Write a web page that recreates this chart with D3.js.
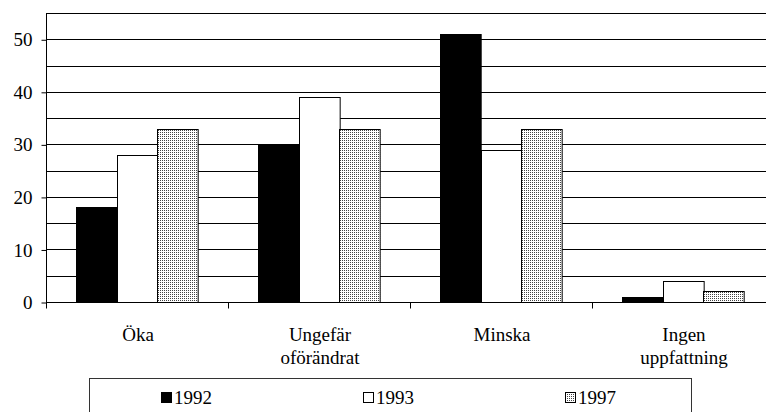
<!DOCTYPE html>
<html><head><meta charset="utf-8">
<script src="https://cdn.jsdelivr.net/npm/d3@7"></script>
<style>
html,body{margin:0;padding:0;background:#fff}
.serif{font-family:Liberation Serif, Tinos, Times New Roman, monospace;}
</style>
</head><body><svg id="c" width="766" height="412"></svg>
<script>
const categories = ["Öka", "Ungefär\noförändrat", "Minska", "Ingen\nuppfattning"];
const seriesNames = ["1992", "1993", "1997"];
const v1992 = [18, 30, 51, 1];
const v1993 = [28, 39, 29, 4];
const v1997 = [33, 33, 33, 2];
const yTicks = [0, 10, 20, 30, 40, 50];
const gridTicks = [0, 5, 10, 15, 20, 25, 30, 35, 40, 45, 50, 55];

const seriesValues = [v1992, v1993, v1997];
const fills = ["#000", "#fff", "url(#dots)"];
const fs = 19;

const svg = d3.select("#c");
const defs = svg.append("defs");
const pat = defs.append("pattern").attr("id", "dots").attr("width", 2).attr("height", 2)
  .attr("patternUnits", "userSpaceOnUse");
pat.append("rect").attr("width", 2).attr("height", 2).attr("fill", "#fff");
pat.append("rect").attr("width", 1).attr("height", 1).attr("fill", "#444");

function serif(sel) {
  return sel.attr("class", "serif").attr("font-family", "Liberation Serif").attr("font-size", fs).attr("fill", "#000");
}

const pLeft = 46, pRight = 774, pTop = 13, pBottom = 302;
const x = d3.scaleBand().domain(categories).range([pLeft, pRight]).padding(0);
const xs = d3.scaleBand().domain(seriesNames).range([30, x.bandwidth() - 30]).padding(0);
const y = d3.scaleLinear().domain([0, 55]).range([pBottom, pTop]);

// gridlines
svg.append("g").selectAll("line").data(gridTicks).join("line")
  .attr("x1", pLeft).attr("x2", pRight)
  .attr("y1", d => Math.round(y(d)) + 0.5).attr("y2", d => Math.round(y(d)) + 0.5)
  .attr("stroke", "#000").attr("stroke-width", 1);

// bars
const groups = svg.append("g").selectAll("g").data(categories).join("g")
  .attr("transform", d => `translate(${x(d)},0)`);
groups.selectAll("rect").data((c, i) => seriesNames.map((s, j) => ({s, j, v: seriesValues[j][i]})))
  .join("rect")
  .attr("x", d => Math.round(xs(d.s)) + 0.5)
  .attr("width", xs.bandwidth())
  .attr("y", d => Math.round(y(d.v)) + 0.5)
  .attr("height", d => Math.round(y(0)) - Math.round(y(d.v)))
  .attr("fill", d => fills[d.j])
  .attr("stroke", "#000").attr("stroke-width", 1);

// y axis
const yAxis = svg.append("g").attr("transform", `translate(${pLeft + 0.5},0.5)`)
  .call(d3.axisLeft(y).tickValues(yTicks).tickSize(5).tickPadding(9).tickFormat(d3.format("d")));
yAxis.attr("font-family", "Liberation Serif").attr("font-size", fs);
yAxis.select(".domain").attr("d", `M0,${Math.round(y(55))}V${Math.round(y(0)) + 6}`).attr("stroke", "#000");
yAxis.selectAll(".tick line").attr("stroke", "#000");
yAxis.selectAll("text").call(serif);

// x axis baseline + category ticks
const xAxis = svg.append("g").attr("transform", `translate(0,${Math.round(y(0)) + 0.5})`);
xAxis.append("line").attr("x1", pLeft).attr("x2", pRight).attr("stroke", "#000");
xAxis.selectAll("line.t").data(categories.slice(1)).join("line").attr("class", "t")
  .attr("x1", d => Math.round(x(d)) + 0.5).attr("x2", d => Math.round(x(d)) + 0.5)
  .attr("y1", 0).attr("y2", 6).attr("stroke", "#000");
const labels = xAxis.selectAll("text").data(categories).join("text")
  .call(serif)
  .attr("x", d => x(d) + x.bandwidth() / 2 + 1)
  .attr("y", 38)
  .attr("text-anchor", "middle");
labels.selectAll("tspan").data(d => d.split("\n")).join("tspan")
  .attr("x", function() { return d3.select(this.parentNode).attr("x"); })
  .attr("dy", (d, i) => i === 0 ? 0 : 23)
  .text(d => d);

// legend
const leg = svg.append("g");
leg.append("rect").attr("x", 89.5).attr("y", 378.5).attr("width", 602).attr("height", 100)
  .attr("fill", "none").attr("stroke", "#333");
const legX = [161, 363, 565];
const items = leg.selectAll("g").data(seriesNames).join("g")
  .attr("transform", (d, i) => `translate(${legX[i]},0)`);
items.append("rect").attr("x", 0.5).attr("y", 392.5).attr("width", 10).attr("height", 10)
  .attr("fill", (d, i) => fills[i]).attr("stroke", "#000");
items.append("text").call(serif).attr("x", 13).attr("y", 404).text(d => d);
</script></body></html>
